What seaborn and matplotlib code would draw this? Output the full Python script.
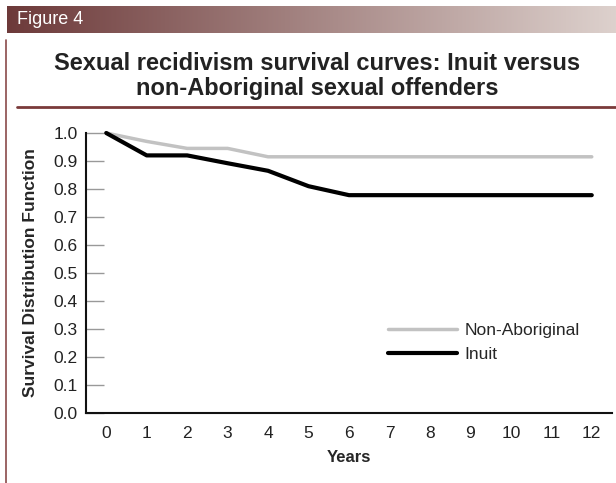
import numpy as np
import pandas as pd
import matplotlib.pyplot as plt
import seaborn as sns
from matplotlib.colors import LinearSegmentedColormap
from matplotlib.lines import Line2D

# Data
years = [0, 1, 2, 3, 4, 5, 6, 7, 8, 9, 10, 11, 12]
non_aboriginal = [1.0, 0.97, 0.945, 0.945, 0.915, 0.915, 0.915, 0.915, 0.915, 0.915, 0.915, 0.915, 0.915]
inuit = [1.0, 0.92, 0.92, 0.892, 0.865, 0.81, 0.778, 0.778, 0.778, 0.778, 0.778, 0.778, 0.778]
y_ticks = [0.0, 0.1, 0.2, 0.3, 0.4, 0.5, 0.6, 0.7, 0.8, 0.9, 1.0]

df = pd.DataFrame({
    "Years": years * 2,
    "Survival": non_aboriginal + inuit,
    "Group": ["Non-Aboriginal"] * len(years) + ["Inuit"] * len(years),
})

sns.set_style("white")
plt.rcParams["font.family"] = ["Liberation Sans", "DejaVu Sans"]

W, H = 616, 483
fig = plt.figure(figsize=(W / 100, H / 100), dpi=100)

# header bar with gradient
hdr = fig.add_axes([7 / W, 1 - 33 / H, 1 - 7 / W, 27 / H])
cmap = LinearSegmentedColormap.from_list("hdr", ["#6d3a3a", "#ddd1cd"])
hdr.imshow(np.linspace(0, 1, 256)[None, :], aspect="auto", cmap=cmap, extent=[0, 1, 0, 1])
hdr.set_axis_off()
fig.text(17 / W, 1 - 20 / H, "Figure 4", color="white", fontsize=13,
         va="center", ha="left")

# frame lines
fig.add_artist(Line2D([6 / W, 6 / W], [0, 1 - 40 / H], transform=fig.transFigure,
                      color="#8a4a4a", lw=1.2))
fig.add_artist(Line2D([17 / W, 1], [1 - 107 / H, 1 - 107 / H], transform=fig.transFigure,
                      color="#7a3a3a", lw=2))

fig.text(317 / W, 1 - 63 / H, "Sexual recidivism survival curves: Inuit versus",
         ha="center", va="center", fontsize=17, fontweight="bold", color="#222222")
fig.text(317 / W, 1 - 89 / H, "non-Aboriginal sexual offenders",
         ha="center", va="center", fontsize=17, fontweight="bold", color="#222222")

ax = fig.add_axes([86 / W, 1 - 413 / H, (612 - 86) / W, (413 - 133) / H])
sns.lineplot(data=df, x="Years", y="Survival", hue="Group",
             palette={"Non-Aboriginal": "#c2c2c2", "Inuit": "#000000"},
             ax=ax, legend=False, solid_capstyle="round")
for line, lw in zip(ax.lines, [2.5, 3.0]):
    line.set_linewidth(lw)
    line.set_clip_on(False)

ax.set_xlim(-0.5, 12.5)
ax.set_ylim(0, 1.0)
ax.set_xticks(years)
ax.set_yticks(y_ticks)
ax.set_yticklabels([f"{v:.1f}" for v in y_ticks])
for lab in ax.get_xticklabels() + ax.get_yticklabels():
    lab.set_fontsize(12.5)
    lab.set_color("#222222")
ax.tick_params(axis="y", direction="in", length=13, width=1, color="#999999", pad=6, left=True)
ax.tick_params(axis="x", length=0, pad=9, bottom=True)
sns.despine(ax=ax)
for s in ["left", "bottom"]:
    ax.spines[s].set_color("#111111")
    ax.spines[s].set_linewidth(1.5)

ax.set_xlabel("Years", fontsize=12, fontweight="bold", labelpad=7)
ax.set_ylabel("Survival Distribution Function", fontsize=12.5, fontweight="bold", labelpad=11)

handles = [Line2D([], [], color="#c2c2c2", lw=2.5, solid_capstyle="round"),
           Line2D([], [], color="#000000", lw=3.0, solid_capstyle="round")]
leg = fig.legend(handles, ["Non-Aboriginal", "Inuit"], loc="upper left",
                 bbox_to_anchor=(388 / W, 1 - 323 / H), frameon=False,
                 borderpad=0, borderaxespad=0,
                 handlelength=4.0, handletextpad=0.4, labelspacing=0.5,
                 prop={"family": "Liberation Sans", "size": 12.5})

fig.savefig("out.png", dpi=100)
